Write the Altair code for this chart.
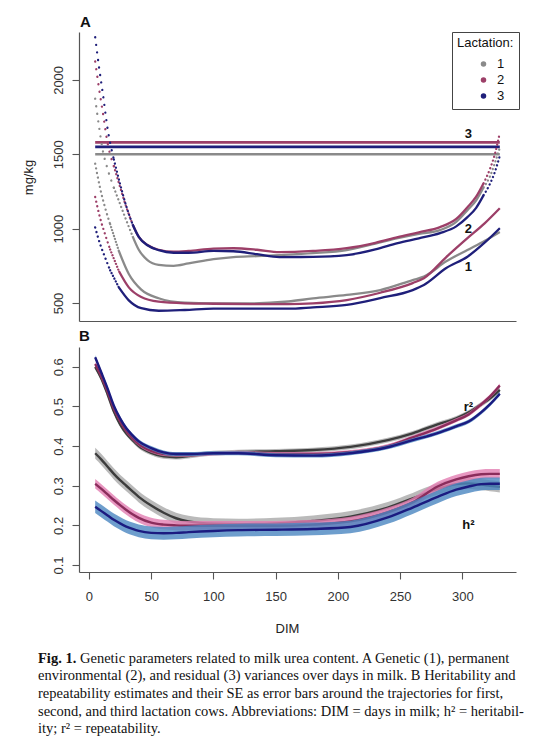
import altair as alt
import pandas as pd

lactations = ["1", "2", "3"]

# ---------------- Panel A: variance components (mg/kg) ----------------
dim_gen = [5, 9, 13, 17, 24, 32, 42, 56, 77, 100, 130, 160, 180, 207, 234, 260, 269, 287, 304, 318, 330]
gen_1 = [1437, 1270, 1140, 1030, 850, 695, 590, 532, 502, 497, 497, 510, 531, 554, 587, 654, 677, 780, 856, 918, 977]
gen_2 = [1213, 1070, 960, 860, 715, 605, 540, 509, 498, 495, 493, 493, 498, 520, 569, 634, 667, 809, 936, 1037, 1137]
gen_3 = [1008, 895, 805, 720, 605, 518, 465, 448, 453, 462, 462, 462, 471, 487, 533, 587, 621, 735, 811, 907, 1003]

dim_pe = [5, 8, 11, 15, 20, 25, 30, 35, 40, 47, 56, 68, 80, 100, 116, 135, 153, 180, 207, 230, 248, 265, 282, 295, 304, 311, 317, 322, 326, 330]
pe_1 = [1874, 1690, 1530, 1400, 1275, 1165, 1055, 950, 858, 789, 757, 750, 766, 795, 809, 815, 822, 835, 856, 900, 936, 965, 990, 1045, 1124, 1190, 1278, 1350, 1440, 1545]
pe_2 = [2124, 1948, 1788, 1575, 1420, 1280, 1145, 1030, 945, 890, 858, 845, 850, 866, 868, 858, 842, 850, 869, 905, 943, 975, 1010, 1065, 1144, 1215, 1305, 1400, 1500, 1645]
pe_3 = [2287, 2090, 1916, 1670, 1465, 1300, 1150, 1030, 945, 888, 855, 838, 838, 850, 848, 828, 809, 810, 822, 860, 903, 935, 970, 1015, 1077, 1140, 1225, 1300, 1380, 1490]

dim_res = [5, 330]
res_1 = [1500, 1500]
res_2 = [1580, 1580]
res_3 = [1550, 1550]

ann_a_text = ["3", "2", "1"]
ann_a_dim = [304.8, 304.8, 304.8]
ann_a_val = [1639, 995, 744]

# ---------------- Panel B: heritability & repeatability ----------------
dim_b = [5, 10, 15, 20, 25, 30, 35, 40, 50, 60, 70, 80, 100, 120, 150, 180, 210, 240, 260, 280, 295, 305, 315, 322, 330]
r2_1 = [0.600, 0.570, 0.530, 0.487, 0.455, 0.432, 0.415, 0.400, 0.383, 0.374, 0.372, 0.375, 0.382, 0.385, 0.387, 0.390, 0.398, 0.415, 0.432, 0.455, 0.470, 0.485, 0.505, 0.520, 0.542]
r2_2 = [0.607, 0.575, 0.537, 0.495, 0.463, 0.438, 0.420, 0.405, 0.388, 0.380, 0.378, 0.378, 0.381, 0.383, 0.380, 0.380, 0.385, 0.400, 0.422, 0.445, 0.465, 0.480, 0.505, 0.525, 0.553]
r2_3 = [0.624, 0.585, 0.545, 0.502, 0.470, 0.445, 0.427, 0.412, 0.395, 0.384, 0.380, 0.380, 0.382, 0.382, 0.377, 0.376, 0.382, 0.397, 0.415, 0.433, 0.450, 0.462, 0.485, 0.505, 0.532]
r2_se = [0.006, 0.005, 0.005]

h2_1 = [0.382, 0.366, 0.348, 0.330, 0.314, 0.300, 0.286, 0.272, 0.250, 0.232, 0.218, 0.210, 0.204, 0.203, 0.205, 0.211, 0.222, 0.245, 0.268, 0.292, 0.304, 0.306, 0.303, 0.300, 0.297]
h2_2 = [0.305, 0.292, 0.278, 0.264, 0.251, 0.239, 0.228, 0.219, 0.207, 0.202, 0.200, 0.199, 0.199, 0.199, 0.199, 0.202, 0.210, 0.233, 0.258, 0.298, 0.316, 0.324, 0.329, 0.330, 0.330]
h2_3 = [0.247, 0.236, 0.225, 0.214, 0.205, 0.197, 0.191, 0.186, 0.181, 0.180, 0.181, 0.183, 0.186, 0.188, 0.189, 0.191, 0.196, 0.220, 0.245, 0.272, 0.290, 0.298, 0.304, 0.305, 0.305]
h2_se = [0.014, 0.012, 0.016]

ann_b_text = ["r²", "h²"]
ann_b_dim = [304.8, 304.8]
ann_b_val = [0.499, 0.200]

panel_letters = ["A", "B"]

caption_bold = "Fig. 1."
caption_first = "Genetic parameters related to milk urea content. A Genetic (1), permanent"
caption_rest = [
    "environmental (2), and residual (3) variances over days in milk. B Heritability and",
    "repeatability estimates and their SE as error bars around the trajectories for first,",
    "second, and third lactation cows. Abbreviations: DIM = days in milk; h² = heritabil-",
    "ity; r² = repeatability.",
]

colors_a = ["#8a8a8a", "#9c3f68", "#1f1f7a"]
colors_line_b = ["#3c3c3c", "#8b2d5c", "#1b1b80"]
colors_band_b = ["#a9a9a9", "#e27db2", "#4a86c0"]

# ---------------- tables ----------------
rows = []
for lac, g, p, r in zip(lactations, [gen_1, gen_2, gen_3], [pe_1, pe_2, pe_3], [res_1, res_2, res_3]):
    for d, v in zip(dim_gen, g):
        rows.append({"DIM": d, "value": v, "Lactation": lac, "comp": "gen"})
    for d, v in zip(dim_pe, p):
        rows.append({"DIM": d, "value": v, "Lactation": lac, "comp": "pe"})
    for d, v in zip(dim_res, r):
        rows.append({"DIM": d, "value": v, "Lactation": lac, "comp": "res"})
dfA = pd.DataFrame(rows)
annA = pd.DataFrame({"DIM": ann_a_dim, "value": ann_a_val, "label": ann_a_text})

rowsB = []
for lac, r2, h2, rse, hse in zip(lactations, [r2_1, r2_2, r2_3], [h2_1, h2_2, h2_3], r2_se, h2_se):
    for d, v in zip(dim_b, r2):
        rowsB.append({"DIM": d, "value": v, "lo": v - rse, "hi": v + rse, "Lac": lac, "measure": "r2"})
    for d, v in zip(dim_b, h2):
        rowsB.append({"DIM": d, "value": v, "lo": v - hse, "hi": v + hse, "Lac": lac, "measure": "h2"})
dfB = pd.DataFrame(rowsB)
annB = pd.DataFrame({"DIM": ann_b_dim, "value": ann_b_val, "label": ann_b_text})

FONT = "Liberation Sans"
x_scale = alt.Scale(domain=[-8, 343], nice=False, zero=False)

# ---------------- Panel A ----------------
xA = alt.X("DIM:Q", scale=x_scale, axis=alt.Axis(title=None, labels=False, ticks=False, domain=True))
yA = alt.Y("value:Q", scale=alt.Scale(domain=[379, 2322], nice=False, zero=False),
           axis=alt.Axis(values=[500, 1000, 1500, 2000], format="d", title="mg/kg", labelAngle=270,
                         labelAlign="center", labelBaseline="bottom", labelPadding=7,
                         titleAngle=270, titleX=-51, titleY=145, titleAlign="center",
                         titleBaseline="middle", titleFontSize=13, titleFontWeight="normal",
                         titleFont=FONT, titleColor="#222"))
colA = alt.Color("Lactation:N", scale=alt.Scale(domain=lactations, range=colors_a),
                 legend=alt.Legend(title="Lactation:", orient="none", legendX=373, legendY=0,
                                   symbolType="circle", symbolSize=30, symbolStrokeWidth=0,
                                   symbolOffset=20, labelOffset=7, clipHeight=16))

baseA = alt.Chart(dfA).encode(x=xA, y=yA, color=colA, detail="comp:N")


def seg(comp, lo, hi, dash=None, width=2.3):
    kw = dict(interpolate="monotone", strokeWidth=width)
    if dash is not None:
        kw.update(strokeDash=dash, strokeCap="round")
    return baseA.transform_filter(
        (alt.datum.comp == comp) & (alt.datum.DIM >= lo) & (alt.datum.DIM <= hi)
    ).mark_line(**kw)


legend_dots = alt.Chart(dfA).transform_filter(alt.datum.DIM < -1000).mark_circle(
    size=30, opacity=1).encode(x=xA, y=yA, color=colA)

# white layout anchor fixing the chart's top-left bound (plot origin at page 79, 32)
anchor = alt.Chart(pd.DataFrame({"k": [0]})).mark_rule(color="white", strokeWidth=1).encode(
    x=alt.value(-70.5), x2=alt.value(-70.5), y=alt.value(-23.5), y2=alt.value(-20))

letterA = alt.Chart(pd.DataFrame({"t": [panel_letters[0]]})).mark_text(
    font=FONT, fontSize=15, fontWeight="bold", color="#111", align="left",
    baseline="alphabetic").encode(text="t:N", x=alt.value(1), y=alt.value(-5))

res_layer = seg("res", 0, 400, width=2.6)
gen_d = seg("gen", 0, 17, dash=[0.1, 4.6], width=2.3)
gen_d2 = seg("gen", 17, 24, dash=[0.1, 3.0], width=2.3)
gen_s = seg("gen", 24, 400)
pe_d = seg("pe", 0, 20, dash=[0.1, 7.5], width=2.3)
pe_d2 = seg("pe", 20, 35, dash=[0.1, 4.0], width=2.3)
pe_s = seg("pe", 35, 317)
pe_e = seg("pe", 317, 400, dash=[0.1, 4.0], width=2.3)

textA = alt.Chart(annA).mark_text(font=FONT, fontSize=13, fontWeight="bold", color="#111",
                                   baseline="middle", align="center").encode(
    x=alt.X("DIM:Q", scale=x_scale), y=alt.Y("value:Q"), text="label:N")

panelA = alt.layer(anchor, legend_dots, res_layer, gen_d, gen_d2, gen_s, pe_d, pe_d2, pe_s, pe_e,
                   textA, letterA).properties(width=437, height=289)

# ---------------- Panel B ----------------
xB = alt.X("DIM:Q", scale=x_scale,
           axis=alt.Axis(values=[0, 50, 100, 150, 200, 250, 300], title="DIM", labelPadding=11,
                         titleX=208, titleY=56, titleAlign="center", titleBaseline="middle",
                         titleFontSize=13, titleFontWeight="normal", titleFont=FONT,
                         titleColor="#222"))
yscaleB = alt.Scale(domain=[0.0824, 0.650], nice=False, zero=False)
axisB = alt.Axis(values=[0.1, 0.2, 0.3, 0.4, 0.5, 0.6], format=".1f", title=None,
                 labelAngle=270, labelAlign="center", labelBaseline="bottom", labelPadding=7)

layersB = []
for lac, lc, bc in zip(lactations, colors_line_b, colors_band_b):
    sub = alt.Chart(dfB).transform_filter(alt.datum.Lac == lac)
    band = sub.mark_area(interpolate="monotone", opacity=0.8, color=bc).encode(
        x=xB, y=alt.Y("lo:Q", scale=yscaleB, axis=axisB, title=None), y2="hi:Q",
        detail="measure:N")
    line = sub.mark_line(interpolate="monotone", strokeWidth=2.4, color=lc).encode(
        x=xB, y=alt.Y("value:Q", scale=yscaleB, axis=axisB, title=None), detail="measure:N")
    layersB += [band, line]

textB = alt.Chart(annB).mark_text(font=FONT, fontSize=13, fontWeight="bold", color="#111",
                                   baseline="middle", align="center").encode(
    x=alt.X("DIM:Q", scale=x_scale), y=alt.Y("value:Q", scale=yscaleB), text="label:N")

letterB = alt.Chart(pd.DataFrame({"t": [panel_letters[1]]})).mark_text(
    font=FONT, fontSize=15, fontWeight="bold", color="#111", align="left",
    baseline="alphabetic").encode(text="t:N", x=alt.value(0), y=alt.value(-6))

CAP_FONT = "Liberation Serif"
CAP_SIZE = 14.5
cap_x = -41
cap_y = 315.5
cap_bold = alt.Chart(pd.DataFrame({"t": [caption_bold]})).mark_text(
    font=CAP_FONT, fontSize=CAP_SIZE, fontWeight="bold", align="left", baseline="alphabetic",
    color="#111").encode(text="t:N", x=alt.value(cap_x), y=alt.value(cap_y))
cap_first = alt.Chart(pd.DataFrame({"t": [caption_first]})).mark_text(
    font=CAP_FONT, fontSize=CAP_SIZE, align="left", baseline="alphabetic",
    color="#111").encode(text="t:N", x=alt.value(cap_x + 42), y=alt.value(cap_y))
cap_rest = alt.Chart(pd.DataFrame({"k": [0]})).mark_text(
    font=CAP_FONT, fontSize=CAP_SIZE, align="left", baseline="alphabetic", lineHeight=17.7,
    color="#111").encode(text=alt.value(caption_rest), x=alt.value(cap_x), y=alt.value(cap_y + 17.7))

panelB = alt.layer(*layersB, textB, letterB, cap_bold, cap_first, cap_rest).properties(
    width=437, height=225)

chart = alt.vconcat(panelA, panelB, spacing=26, bounds="flush").resolve_scale(
    color="independent"
).properties(
    padding={"left": 0, "top": 0, "right": 4, "bottom": 0}
).configure_view(stroke=None).configure_axis(
    grid=False, domainColor="#555", tickColor="#555", domainWidth=1.2, tickWidth=1.1,
    tickSize=7, labelFont=FONT, labelFontSize=13, labelColor="#333"
).configure_legend(
    strokeColor="#444", fillColor="white", padding=5, cornerRadius=0,
    titleFont=FONT, titleFontSize=13, titleFontWeight="normal", titleColor="#111",
    labelFont=FONT, labelFontSize=13, labelColor="#111", rowPadding=0, titlePadding=6
)

chart.save("out.html", embed_options={"renderer": "svg", "actions": False})
